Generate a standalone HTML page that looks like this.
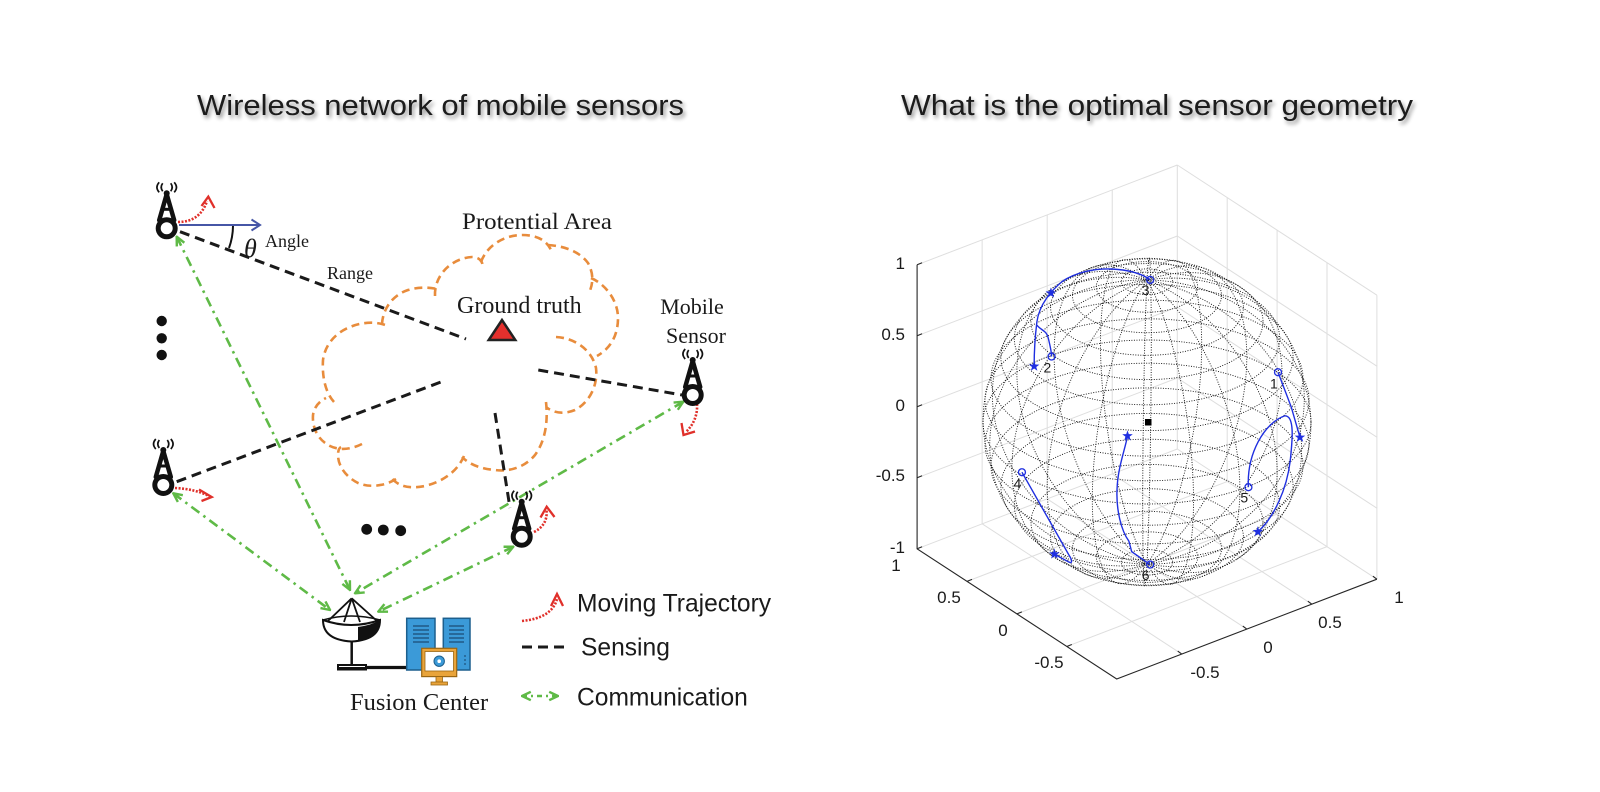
<!DOCTYPE html>
<html>
<head>
<meta charset="utf-8">
<style>
  html,body{margin:0;padding:0;background:#fff;}
  svg{display:block;}
  .serif{font-family:"Liberation Serif","Times New Roman",serif;fill:#1a1a1a;}
  .sans{font-family:"Liberation Sans",Arial,sans-serif;fill:#1a1a1a;}
</style>
</head>
<body>
<svg width="1600" height="792" viewBox="0 0 1600 792" xmlns="http://www.w3.org/2000/svg">
  <defs>
    <filter id="sh" x="-5%" y="-40%" width="115%" height="190%">
      <feGaussianBlur in="SourceAlpha" stdDeviation="2"/>
      <feOffset dx="2" dy="3" result="b"/>
      <feComponentTransfer><feFuncA type="linear" slope="0.45"/></feComponentTransfer>
      <feMerge><feMergeNode/><feMergeNode in="SourceGraphic"/></feMerge>
    </filter>
    <marker id="ga" viewBox="0 0 10 10" refX="9" refY="5" markerWidth="11" markerHeight="11" markerUnits="userSpaceOnUse" orient="auto-start-reverse">
      <path d="M1,1.2 L9,5 L1,8.8" fill="none" stroke="#5fba47" stroke-width="2.2" stroke-dasharray="none"/>
    </marker>
    <g id="sensor">
      <path d="M0,-34 L-7.5,-8 M0,-34 L7.5,-8" stroke="#111" stroke-width="4.5" stroke-linecap="round" fill="none"/>
      <path d="M-4.5,-19 L4.5,-19" stroke="#111" stroke-width="3"/>
      <circle cx="0" cy="0" r="8.5" fill="#fff" stroke="#111" stroke-width="5"/>
      <circle cx="0" cy="-35" r="3" fill="#111"/>
      <path d="M-4,-37 Q-7,-41 -4,-45 M-7.5,-36 Q-12,-41 -7.5,-46 M4,-37 Q7,-41 4,-45 M7.5,-36 Q12,-41 7.5,-46" stroke="#111" stroke-width="1.7" fill="none"/>
    </g>
    <polygon id="starZ" points="0,-16 3.74,-5.16 15.17,-4.93 6.06,1.97 9.37,12.9 0,6.38 -9.37,12.9 -6.06,1.97 -15.17,-4.93 -3.74,-5.16" fill="#1f2fe0"/>
  </defs>

  <rect width="1600" height="792" fill="#fff"/>

  <!-- Titles -->
  <text class="sans" x="197" y="115" font-size="29" textLength="487" lengthAdjust="spacingAndGlyphs" fill="#111" filter="url(#sh)">Wireless network of mobile sensors</text>
  <text class="sans" x="901" y="115" font-size="29" textLength="512" lengthAdjust="spacingAndGlyphs" fill="#111" filter="url(#sh)">What is the optimal sensor geometry</text>

  <!-- ================= LEFT DIAGRAM ================= -->
  <g fill="none" stroke="#e88c3c" stroke-width="2.6" stroke-dasharray="8 5" stroke-linecap="butt">
    <path d="M435,296 C434,275 452,258 472,257 C480,257 483,262 483,268"/>
    <path d="M481,262 C487,245 505,235 522,235 C537,235 547,240 552,252"/>
    <path d="M548,245 C565,246 580,252 588,263 C593,272 594,282 589,293"/>
    <path d="M591,278 C605,284 618,300 618,318 C618,335 611,348 597,356"/>
    <path d="M556,337 C575,338 592,350 596,368 C598,385 590,402 575,410 C565,414 555,414 546,407"/>
    <path d="M546,402 C548,420 546,440 535,455 C525,467 510,472 495,470 C482,469 470,465 462,457"/>
    <path d="M464,456 C458,470 445,481 425,486 C410,489 398,487 391,477"/>
    <path d="M396,479 C385,486 370,488 358,483 C346,477 338,466 338,455 C338,451 339,448 341,447"/>
    <path d="M362,444 C352,449 340,451 330,446 C318,440 312,428 313,415 C314,408 318,402 326,398"/>
    <path d="M334,402 C325,392 322,376 323,360 C325,345 335,333 350,327 C362,322 376,321 388,326"/>
    <path d="M382,324 C383,308 393,295 408,290 C418,287 428,287 437,289"/>
  </g>

  <g stroke="#1a1a1a" stroke-width="3" stroke-dasharray="10 6" fill="none">
    <path d="M180,231.7 L466,339"/>
    <path d="M176.7,481.7 L441.7,381.7"/>
    <path d="M495,413 L510,508"/>
    <path d="M538.3,370 L682,395"/>
    <path d="M522,647 L567,647"/>
  </g>

  <g stroke="#5fba47" stroke-width="2.6" stroke-dasharray="10 5 2.5 5" fill="none" marker-start="url(#ga)" marker-end="url(#ga)">
    <path d="M176.7,236.7 L350,590"/>
    <path d="M173.3,493.3 L330,610"/>
    <path d="M683.3,401.7 L355,593.3"/>
    <path d="M513.3,546.7 L378.3,611.7"/>
    <path d="M522,696 L558,696" stroke-dasharray="5 4 2 4"/>
  </g>

  <g stroke="#4656a6" stroke-width="2" fill="none">
    <path d="M179,225 L259,225"/>
    <path d="M251.5,219.5 L260,225 L251.5,230.5"/>
  </g>
  <path d="M233,226 A66,66 0 0 1 229,248" stroke="#111" stroke-width="2" fill="none"/>

  <g stroke="#e0302a" fill="none">
    <g stroke-width="2.6" stroke-dasharray="2 1.5">
      <path d="M178,222 Q200,222 207,201"/>
      <path d="M175,488 Q195,489 209,496"/>
      <path d="M534,532 Q548,525 546.5,510"/>
      <path d="M697,404 Q698,420 686,432"/>
      <path d="M522,621 Q552,618 557,599"/>
    </g>
    <g stroke-width="2.3">
      <path d="M201.5,206 L208.3,196.7 L214.5,208"/>
      <path d="M199,489.5 L211.7,497 L201.5,501"/>
      <path d="M540.5,517.5 L546.7,506.7 L554.5,517"/>
      <path d="M681.5,423 L683.5,435 L695,431.5"/>
      <path d="M551,606 L557,594 L563,606"/>
    </g>
  </g>

  <use href="#sensor" x="166.7" y="228.3"/>
  <use href="#sensor" x="163.3" y="485"/>
  <use href="#sensor" x="521.7" y="536.7"/>
  <use href="#sensor" x="692.7" y="395"/>

  <g fill="#111">
    <circle cx="161.7" cy="321" r="5.2"/>
    <circle cx="161.7" cy="338.3" r="5.2"/>
    <circle cx="161.7" cy="355" r="5.2"/>
    <circle cx="366.7" cy="529.3" r="5.4"/>
    <circle cx="383.3" cy="530" r="5.4"/>
    <circle cx="400.7" cy="530.7" r="5.4"/>
  </g>

  <polygon points="502,320 488.7,340 515.3,340" fill="#e5302d" stroke="#222" stroke-width="2.5"/>

  <text class="serif" x="462" y="229" font-size="23" textLength="150" lengthAdjust="spacingAndGlyphs">Protential Area</text>
  <text class="serif" x="457" y="313" font-size="24">Ground truth</text>
  <text class="serif" x="327" y="279" font-size="18">Range</text>
  <text class="serif" x="265" y="247" font-size="18">Angle</text>
  <text class="serif" x="244" y="257" font-size="26" font-style="italic">θ</text>
  <text class="serif" x="692" y="314" font-size="22" text-anchor="middle">Mobile</text>
  <text class="serif" x="696" y="343" font-size="22" text-anchor="middle">Sensor</text>
  <text class="serif" x="350" y="710" font-size="24.5">Fusion Center</text>

  <!-- Fusion center dish -->
  <g stroke="#111" stroke-width="1.8" fill="none">
    <path d="M351.7,598.3 L328,621 M351.7,598.3 L344,622 M351.7,598.3 L360,622 M351.7,598.3 L377,621"/>
  </g>
  <path d="M323,620 Q323,640 351.7,641.5 Q380,640 380,620 Q351,630 323,620 Z" fill="#fff" stroke="#111" stroke-width="2"/>
  <path d="M358,627 Q372,625 380,620 Q379,638 358,641 Z" fill="#111"/>
  <path d="M323,620 Q351,612 380,620" fill="none" stroke="#111" stroke-width="1.6"/>
  <line x1="351.7" y1="641" x2="351.7" y2="665" stroke="#111" stroke-width="2.5"/>
  <rect x="337" y="664" width="30" height="6.5" fill="#111"/>
  <line x1="339" y1="666.5" x2="365" y2="666.5" stroke="#fff" stroke-width="1"/>
  <line x1="366" y1="667.5" x2="410" y2="667.5" stroke="#111" stroke-width="3.2"/>
  <rect x="406.7" y="618.3" width="28.3" height="51.7" fill="#3b9ad8" stroke="#1d5f8d" stroke-width="1.5"/>
  <rect x="443.3" y="618.3" width="26.7" height="51.7" fill="#3b9ad8" stroke="#1d5f8d" stroke-width="1.5"/>
  <g stroke="#1d4f78" stroke-width="1.3">
    <line x1="413" y1="626" x2="429" y2="626"/><line x1="413" y1="630" x2="429" y2="630"/><line x1="413" y1="634" x2="429" y2="634"/><line x1="413" y1="638" x2="429" y2="638"/><line x1="413" y1="642" x2="429" y2="642"/>
    <line x1="449" y1="626" x2="464" y2="626"/><line x1="449" y1="630" x2="464" y2="630"/><line x1="449" y1="634" x2="464" y2="634"/><line x1="449" y1="638" x2="464" y2="638"/><line x1="449" y1="642" x2="464" y2="642"/>
  </g>
  <g fill="#1d4f78"><circle cx="465" cy="656" r="0.9"/><circle cx="465" cy="660" r="0.9"/><circle cx="465" cy="664" r="0.9"/></g>
  <rect x="421.7" y="648.3" width="35" height="28.3" fill="#e9a43a" stroke="#9a6612" stroke-width="1.2"/>
  <rect x="425" y="651.5" width="28.5" height="19.5" fill="#fff" stroke="#9a6612" stroke-width="0.8"/>
  <circle cx="439.2" cy="661.2" r="5.2" fill="#3b9ad8" stroke="#1d5f8d" stroke-width="1"/>
  <circle cx="439.2" cy="661.2" r="1.8" fill="#fff"/>
  <rect x="436" y="676.6" width="6.5" height="5.5" fill="#e9a43a" stroke="#9a6612" stroke-width="0.8"/>
  <rect x="431" y="682" width="16.5" height="3" fill="#e9a43a" stroke="#9a6612" stroke-width="0.8"/>

  <text class="sans" x="577" y="611.5" font-size="24.6">Moving Trajectory</text>
  <text class="sans" x="581" y="655.5" font-size="24.6">Sensing</text>
  <text class="sans" x="577" y="705.5" font-size="24.6">Communication</text>

  <!-- ================= RIGHT PLOT ================= -->
  <g stroke="#dedede" stroke-width="1" fill="none">
    <path d="M982.15,523.85 L982.15,239.85 M1047.2,498.9 L1047.2,214.9 M1112.25,473.95 L1112.25,189.95 M1177.3,449 L1177.3,165"/>
    <path d="M917.1,477.8 L1177.3,378 M917.1,406.8 L1177.3,307 M917.1,335.8 L1177.3,236 M917.1,264.8 L1177.3,165"/>
    <path d="M1227.2,481.55 L1227.2,197.55 M1277.1,514.1 L1277.1,230.1 M1327,546.65 L1327,262.65 M1376.9,579.2 L1376.9,295.2"/>
    <path d="M1177.3,378 L1376.9,508.2 M1177.3,307 L1376.9,437.2 M1177.3,236 L1376.9,366.2 M1177.3,165 L1376.9,295.2"/>
    <path d="M982.15,523.85 L1181.75,654.05 M1047.2,498.9 L1246.8,629.1 M1112.25,473.95 L1311.85,604.15 M1177.3,449 L1376.9,579.2"/>
    <path d="M967,581.35 L1227.2,481.55 M1016.9,613.9 L1277.1,514.1 M1066.8,646.45 L1327,546.65 M917.1,548.8 L1177.3,449"/>
  </g>
  <g stroke="#262626" stroke-width="1.1" fill="none">
    <path d="M917.1,264.8 L917.1,548.8 L1116.7,679 L1376.9,579.2"/>
    <path d="M917.1,264.8 l5,-2 M917.1,335.8 l5,-2 M917.1,406.8 l5,-2 M917.1,477.8 l5,-2 M917.1,548.8 l5,-2"/>
    <path d="M967,581.35 l5,-2 M1016.9,613.9 l5,-2 M1066.8,646.45 l5,-2"/>
    <path d="M1181.75,654.05 l-4,-3 M1246.8,629.1 l-4,-3 M1311.85,604.15 l-4,-3 M1376.9,579.2 l-4,-3"/>
  </g>
  <g class="sans" font-size="17" fill="#262626">
    <text x="905" y="268.8" text-anchor="end">1</text>
    <text x="905" y="339.8" text-anchor="end">0.5</text>
    <text x="905" y="410.8" text-anchor="end">0</text>
    <text x="905" y="480.8" text-anchor="end">-0.5</text>
    <text x="905" y="552.8" text-anchor="end">-1</text>
    <text x="896" y="571" text-anchor="middle">1</text>
    <text x="949" y="603" text-anchor="middle">0.5</text>
    <text x="1003" y="636" text-anchor="middle">0</text>
    <text x="1049" y="668" text-anchor="middle">-0.5</text>
    <text x="1205" y="678" text-anchor="middle">-0.5</text>
    <text x="1268" y="653" text-anchor="middle">0</text>
    <text x="1330" y="628" text-anchor="middle">0.5</text>
    <text x="1399" y="603" text-anchor="middle">1</text>
  </g>

  <!-- dotted sphere -->
  <g fill="none" stroke="#111" stroke-width="0.9" stroke-dasharray="1 1.5">
    <ellipse cx="1147" cy="281.7" rx="25.7" ry="12.8"/>
    <ellipse cx="1147" cy="286.9" rx="50.7" ry="25.3"/>
    <ellipse cx="1147" cy="295.5" rx="74.5" ry="37.2"/>
    <ellipse cx="1147" cy="307.1" rx="96.4" ry="48.2"/>
    <ellipse cx="1147" cy="321.6" rx="116.0" ry="58.0"/>
    <ellipse cx="1147" cy="338.5" rx="132.7" ry="66.3"/>
    <ellipse cx="1147" cy="357.5" rx="146.1" ry="73.1"/>
    <ellipse cx="1147" cy="378.1" rx="156.0" ry="78.0"/>
    <ellipse cx="1147" cy="399.8" rx="162.0" ry="81.0"/>
    <ellipse cx="1147" cy="422" rx="164" ry="82"/>
    <ellipse cx="1147" cy="444.2" rx="162.0" ry="81.0"/>
    <ellipse cx="1147" cy="465.9" rx="156.0" ry="78.0"/>
    <ellipse cx="1147" cy="486.5" rx="146.1" ry="73.1"/>
    <ellipse cx="1147" cy="505.5" rx="132.7" ry="66.3"/>
    <ellipse cx="1147" cy="522.4" rx="116.0" ry="58.0"/>
    <ellipse cx="1147" cy="536.9" rx="96.4" ry="48.2"/>
    <ellipse cx="1147" cy="548.5" rx="74.5" ry="37.2"/>
    <ellipse cx="1147" cy="557.1" rx="50.7" ry="25.3"/>
    <ellipse cx="1147" cy="562.3" rx="25.7" ry="12.8"/>
    <ellipse cx="1147" cy="422" rx="164" ry="142.0" transform="rotate(3.0 1147 422)"/>
    <ellipse cx="1147" cy="422" rx="164" ry="133.9" transform="rotate(35.3 1147 422)"/>
    <ellipse cx="1147" cy="422" rx="164" ry="112.7" transform="rotate(56.9 1147 422)"/>
    <ellipse cx="1147" cy="422" rx="164" ry="80.4" transform="rotate(71.0 1147 422)"/>
    <ellipse cx="1147" cy="422" rx="164" ry="40.3" transform="rotate(81.6 1147 422)"/>
    <ellipse cx="1147" cy="422" rx="164" ry="3.7" transform="rotate(90.75 1147 422)"/>
    <ellipse cx="1147" cy="422" rx="164" ry="47.4" transform="rotate(100.0 1147 422)"/>
    <ellipse cx="1147" cy="422" rx="164" ry="86.4" transform="rotate(111.0 1147 422)"/>
    <ellipse cx="1147" cy="422" rx="164" ry="117.0" transform="rotate(126.0 1147 422)"/>
    <ellipse cx="1147" cy="422" rx="164" ry="136.2" transform="rotate(149.4 1147 422)"/>
  </g>
  <rect x="1145" y="419" width="6.5" height="6.5" fill="#000"/>

  <!-- trajectories (zoom coordinates) -->
  <g transform="translate(846,147.5) scale(0.3484)">
    <g fill="none" stroke="#1f2fe0" stroke-width="4">
      <path d="M873,380 C830,345 700,330 620,385 C590,410 555,450 548,500 C543,540 540,590 540,628"/>
      <path d="M548,510 C560,525 575,525 580,545 C585,565 590,585 590,600"/>
      <path d="M1240,645 L1278,745 L1303,832"/>
      <path d="M1155,975 C1150,880 1200,790 1260,770 C1290,770 1280,850 1275,900 C1265,980 1230,1060 1182,1103"/>
      <path d="M505,932 L640,1170 C650,1185 650,1195 640,1190 L598,1167"/>
      <path d="M873,1197 L820,1160 L812,1130 C790,1100 775,1040 778,980 C780,920 800,870 808,828"/>
    </g>
    <g fill="none" stroke="#1f2fe0" stroke-width="3.8">
      <circle cx="873" cy="380" r="10"/>
      <circle cx="590" cy="600" r="10"/>
      <circle cx="1240" cy="645" r="10"/>
      <circle cx="1155" cy="975" r="10"/>
      <circle cx="505" cy="932" r="10"/>
      <circle cx="873" cy="1197" r="10"/>
    </g>
    <use href="#starZ" x="588" y="418"/>
    <use href="#starZ" x="540" y="628"/>
    <use href="#starZ" x="1303" y="832"/>
    <use href="#starZ" x="1182" y="1103"/>
    <use href="#starZ" x="598" y="1167"/>
    <use href="#starZ" x="808" y="828"/>
    <g class="sans" font-size="40" fill="#222" text-anchor="middle">
      <text x="860" y="424">3</text>
      <text x="578" y="646">2</text>
      <text x="1228" y="692">1</text>
      <text x="1143" y="1019">5</text>
      <text x="492" y="979">4</text>
      <text x="860" y="1242">6</text>
    </g>
  </g>
</svg>
</body>
</html>
